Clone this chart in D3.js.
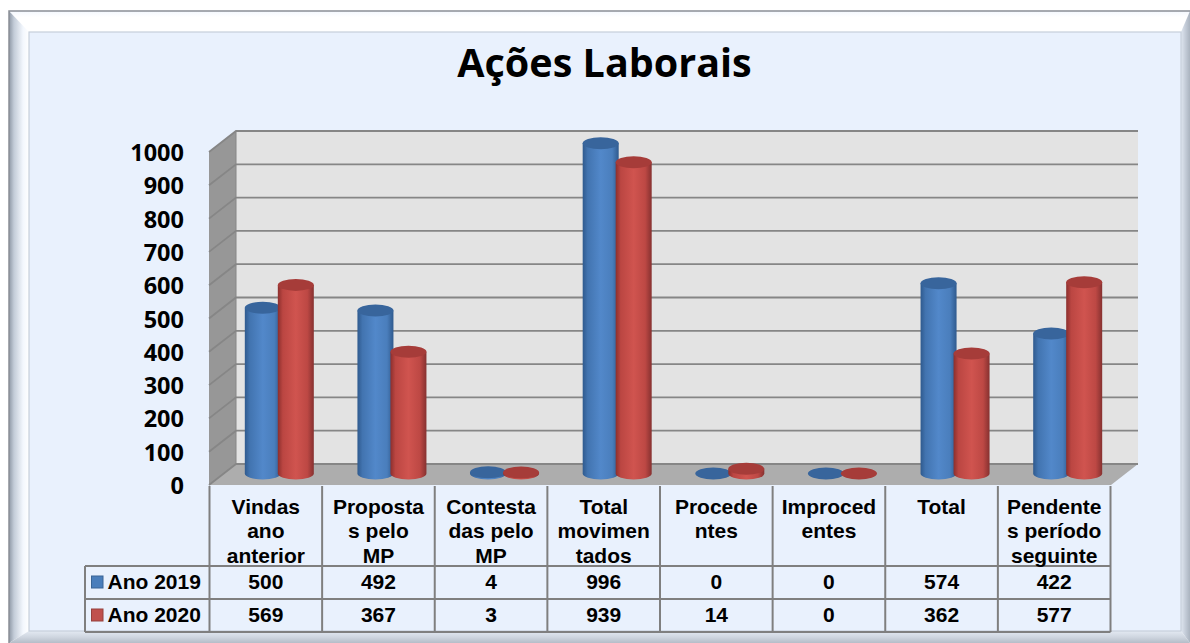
<!DOCTYPE html>
<html><head><meta charset="utf-8">
<script src="https://cdn.jsdelivr.net/npm/d3@7"></script>
<style>html,body{margin:0;padding:0;background:#fff;overflow:hidden}svg{display:block}</style>
</head><body><svg id="c" width="1190" height="643"></svg>
<script>
const title = "Ações Laborais";
const categories = ["Vindas ano anterior","Propostas pelo MP","Contestadas pelo MP","Total movimentados","Procedentes","Improcedentes","Total","Pendentes período seguinte"];
const categoryLines = [["Vindas","ano","anterior"],["Proposta","s pelo","MP"],["Contesta","das pelo","MP"],["Total","movimen","tados"],["Procede","ntes"],["Improced","entes"],["Total"],["Pendente","s período","seguinte"]];
const seriesNames = ["Ano 2019","Ano 2020"];
const values2019 = [500,492,4,996,0,0,574,422];
const values2020 = [569,367,3,939,14,0,362,577];
const yTicks = [0,100,200,300,400,500,600,700,800,900,1000];

const svg = d3.select("#c");
const defs = svg.append("defs");
function hgrad(id, stops){
  const g = defs.append("linearGradient").attr("id",id).attr("x1","0").attr("x2","1").attr("y1","0").attr("y2","0");
  stops.forEach(s=>g.append("stop").attr("offset",s[0]).attr("stop-color",s[1]));
}
function vgrad(id, stops){
  const g = defs.append("linearGradient").attr("id",id).attr("x1","0").attr("x2","0").attr("y1","0").attr("y2","1");
  stops.forEach(s=>g.append("stop").attr("offset",s[0]).attr("stop-color",s[1]));
}
hgrad("blueBody",[[0,"#2f5a8e"],[0.14,"#4274b0"],[0.5,"#5288ca"],[0.82,"#4a7ebc"],[1,"#2f5a8e"]]);
hgrad("redBody",[[0,"#8c2f2d"],[0.14,"#bb4642"],[0.5,"#d0544f"],[0.82,"#bd4844"],[1,"#863130"]]);
hgrad("bevelL",[[0,"#8f99a6"],[0.25,"#c3ccd8"],[0.7,"#f3f7fd"],[1,"#ffffff"]]);
hgrad("bevelR",[[0,"#dfe6f0"],[0.5,"#c4ccd8"],[1,"#aab3bf"]]);
vgrad("bevelT",[[0,"#f4f8fe"],[0.3,"#ffffff"],[1,"#ffffff"]]);
vgrad("bevelB",[[0,"#e3e9f2"],[0.5,"#cfd6e0"],[1,"#b5bdc8"]]);

// Panel
const px0=9, py0=11, px1=1190, py1=643, ix0=29, iy0=32, ix1=1181, iy1=631;
svg.append("rect").attr("width",1190).attr("height",643).attr("fill","#ffffff");
svg.append("polygon").attr("points",`${px0},${py0} ${px1},${py0} ${ix1},${iy0} ${ix0},${iy0}`).attr("fill","url(#bevelT)");
svg.append("polygon").attr("points",`${px0},${py0} ${ix0},${iy0} ${ix0},${iy1} ${px0},${py1}`).attr("fill","url(#bevelL)");
svg.append("polygon").attr("points",`${px1},${py0} ${px1},${py1} ${ix1},${iy1} ${ix1},${iy0}`).attr("fill","url(#bevelR)");
svg.append("polygon").attr("points",`${px0},${py1} ${ix0},${iy1} ${ix1},${iy1} ${px1},${py1}`).attr("fill","url(#bevelB)");
svg.append("path").attr("d",`M${px0},${py1}V${py0}H${px1}`).attr("fill","none").attr("stroke","#8a8f96").attr("stroke-width",1.5);
svg.append("rect").attr("x",ix0).attr("y",iy0).attr("width",ix1-ix0).attr("height",iy1-iy0).attr("fill","#e9f1fd").attr("stroke","#c6cfdb").attr("stroke-width",1.2);

svg.append("text").attr("x",604.5).attr("y",77).attr("text-anchor","middle")
  .attr("font-family","'Open Sans'").attr("font-weight",700).attr("font-size",39.5).attr("fill","#000").text(title);

// Scales
const dx=27, dy=21;
const floorFrontY=485, wallX=209;
const yBack=d3.scaleLinear().domain([0,1000]).range([464,131]);
const yBar=d3.scaleLinear().domain([0,1000]).range([473.5,142]);
const x=d3.scaleBand().domain(categories).range([209.5,1110.5]);
const barOffset=13.5, barSep=16.5, rx=18, ry=6;

// Walls
const wallRight=1111+dx;
svg.append("rect").attr("x",wallX+dx).attr("y",yBack(1000)).attr("width",wallRight-wallX-dx).attr("height",yBack(0)-yBack(1000)).attr("fill","#e3e3e3");
svg.append("polygon").attr("points",`${wallX},${yBack(1000)+dy} ${wallX+dx},${yBack(1000)} ${wallX+dx},${yBack(0)} ${wallX},${yBack(0)+dy}`).attr("fill","#979797");
svg.append("polygon").attr("points",`${wallX},${floorFrontY} ${wallX+dx},${yBack(0)} ${wallRight},${yBack(0)} ${wallRight-dx},${floorFrontY}`).attr("fill","#adadad");
const grid=svg.append("g").attr("fill","none").attr("stroke","#868686");
grid.selectAll("path").data(yTicks).join("path")
  .attr("d",d=>`M${wallX},${yBack(d)+dy}L${wallX+dx},${yBack(d)}H${wallRight}`)
  .attr("stroke-width",1.8);
grid.append("path").attr("d",`M${wallX+dx},${yBack(1000)}V${yBack(0)}`).attr("stroke-width",1);

// Y axis
const yAxisScale=d3.scaleLinear().domain([0,1000]).range([yBack(0)+dy+1,yBack(1000)+dy+1]);
const yAxis=svg.append("g").attr("transform","translate(184,0)")
  .call(d3.axisLeft(yAxisScale).tickValues(yTicks).tickSize(0).tickPadding(0).tickFormat(d3.format("d")));
yAxis.select(".domain").remove();
yAxis.selectAll("text").attr("font-family","'Open Sans'").attr("font-weight",700).attr("font-size",23.5).attr("fill","#000");

// Cylinders
function cylinder(g,cx,v,body,top){
  const yt=yBar(v), yb=yBar(0);
  if(v>0){
    g.append("path").attr("d",`M${cx-rx},${yt}V${yb}A${rx},${ry} 0 0 0 ${cx+rx},${yb}V${yt}Z`).attr("fill",`url(#${body})`);
  }
  g.append("ellipse").attr("cx",cx).attr("cy",yt).attr("rx",rx).attr("ry",ry).attr("fill",top);
}
const bars=svg.append("g");
categories.forEach((c,i)=>{
  const center=x(c)+x.bandwidth()/2+barOffset;
  const g=bars.append("g");
  cylinder(g,center-barSep,values2019[i],"blueBody","#38659c");
  cylinder(g,center+barSep,values2020[i],"redBody","#a63c39");
});

// Data table
const rowTop=486, rowA=566, rowB=599, rowC=632, tableLeft=85;
const tbl=svg.append("g").attr("stroke","#7f7f7f").attr("stroke-width",2).attr("fill","none");
const edges=x.domain().map(c=>x(c)).concat([x.range()[1]]);
tbl.selectAll("line.v").data(edges).join("line").attr("class","v")
  .attr("x1",d=>d).attr("x2",d=>d).attr("y1",rowTop).attr("y2",rowC);
[rowA,rowB,rowC].forEach(r=>tbl.append("line").attr("x1",tableLeft).attr("x2",x.range()[1]).attr("y1",r).attr("y2",r));
tbl.append("line").attr("x1",tableLeft).attr("x2",tableLeft).attr("y1",rowA).attr("y2",rowC);

const txt=svg.append("g").attr("font-family","'Liberation Sans'").attr("font-weight",700).attr("font-size",21).attr("fill","#000").attr("text-anchor","middle");
categories.forEach((c,i)=>{
  const cx=x(c)+x.bandwidth()/2;
  categoryLines[i].forEach((l,j)=>txt.append("text").attr("x",cx).attr("y",513.5+j*24.5).text(l));
  txt.append("text").attr("x",cx).attr("y",589).text(values2019[i]);
  txt.append("text").attr("x",cx).attr("y",622).text(values2020[i]);
});
[[seriesNames[0],589,"#4a7ebb","#3a6595",rowA],[seriesNames[1],622,"#c0504d","#96403d",rowB]].forEach(d=>{
  svg.append("rect").attr("x",91.5).attr("y",d[4]+10).attr("width",11.5).attr("height",12).attr("fill",d[2]).attr("stroke",d[3]).attr("stroke-width",1);
  txt.append("text").attr("x",107.5).attr("y",d[1]).attr("text-anchor","start").text(d[0]);
});
</script></body></html>
